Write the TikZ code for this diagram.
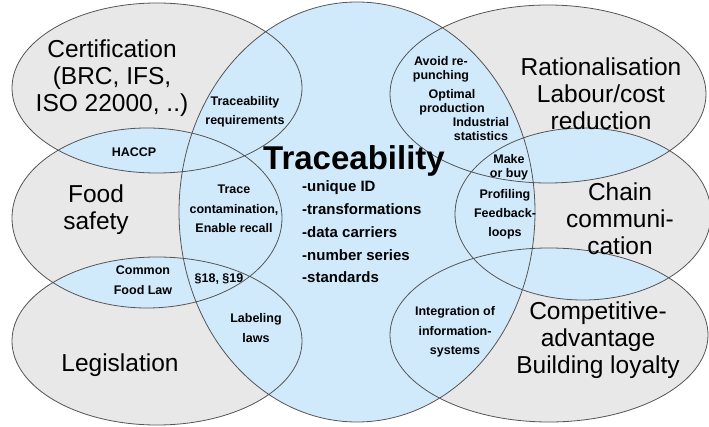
\documentclass[tikz,border=0pt]{standalone}
\usepackage{fontspec}
\setmainfont{Liberation Sans}
\definecolor{hellblau}{RGB}{208,234,252}
\definecolor{hellgrau}{RGB}{232,232,232}
\definecolor{rand}{RGB}{85,85,85}
\begin{document}
\begin{tikzpicture}[x=1pt,y=-1pt]
	\tikzset{gross/.style={inner sep=0pt,align=center,font=\fontsize{24.5}{27}\selectfont},
		klein/.style={inner sep=0pt,align=center,font=\bfseries\fontsize{12.5}{19.5}\selectfont},
		eng/.style={klein,font=\bfseries\fontsize{12.5}{14}\selectfont},
		liste/.style={inner sep=0pt,align=left,anchor=west,font=\bfseries\fontsize{15}{22.8}\selectfont}}
	\useasboundingbox (0,0) rectangle (709,427);
	\def\zert{(157,88) ellipse [x radius=145pt,y radius=85pt]}
	\def\essen{(147,218) ellipse [x radius=135pt,y radius=90pt]}
	\def\gesetz{(157,341) ellipse [x radius=145pt,y radius=84pt]}
	\def\ratio{(548,94) ellipse [x radius=158pt,y radius=89pt]}
	\def\kette{(583,214) ellipse [x radius=128pt,y radius=86pt]}
	\def\markt{(549,335) ellipse [x radius=159pt,y radius=87pt]}
	\def\mitte{(357,212) ellipse [x radius=178pt,y radius=210pt]}
	\fill[hellgrau] \zert \essen \gesetz \ratio \kette \markt;
	\fill[hellblau] \mitte;
	\begin{scope}\clip \zert; \fill[hellblau] \essen; \end{scope}
	\begin{scope}\clip \essen; \fill[hellblau] \gesetz; \end{scope}
	\begin{scope}\clip \ratio; \fill[hellblau] \kette; \end{scope}
	\begin{scope}\clip \kette; \fill[hellblau] \markt; \end{scope}
	\draw[rand,line width=.8pt] \zert \essen \gesetz \ratio \kette \markt \mitte;
	% linke Seite
	\node[gross] (zert) at (112,78) {Certification\\(BRC, IFS,\\ISO 22000, ..)};
	\node[gross] (essen) at (96,210) {Food\\safety};
	\node[gross] (gesetz) at (120,365) {Legislation};
	\node[klein] (anf) at (245,112) {Traceability\\requirements};
	\node[klein] (haccp) at (134,152) {HACCP};
	\node[klein] (recall) at (234,209) {Trace\\contamination,\\Enable recall};
	\node[klein] (cfl) at (143,280) {Common\\Food Law};
	\node[klein] (para) at (219,279) {§18, §19};
	\node[klein] (label) at (256,328) {Labeling\\laws};
	% Mitte
	\node[inner sep=0pt,font=\bfseries\fontsize{33}{36}\selectfont] (trace) at (354,161) {Traceability};
	\node[liste] (merkmale) at (302,232) {-unique ID\\-transformations\\-data carriers\\-number series\\-standards};
	% rechte Seite
	\node[gross] (ratio) at (601,94) {Rationalisation\\Labour/cost\\reduction};
	\node[gross] (kette) at (620,219) {Chain\\communi-\\cation};
	\node[gross] (markt) at (598,340) {Competitive-\\advantage\\Building loyalty};
	\node[eng] (punch) at (441,69) {Avoid re-\\punching};
	\node[eng] (prod) at (452,102) {Optimal\\production};
	\node[eng] (stat) at (481,129) {Industrial\\statistics};
	\node[eng] (buy) at (509,167) {Make\\or buy};
	\node[eng] (profil) at (505,195) {Profiling};
	\node[klein] (loops) at (505,224) {Feedback-\\loops};
	\node[klein] (integ) at (455,332) {Integration of\\information-\\systems};
\end{tikzpicture}
\end{document}
